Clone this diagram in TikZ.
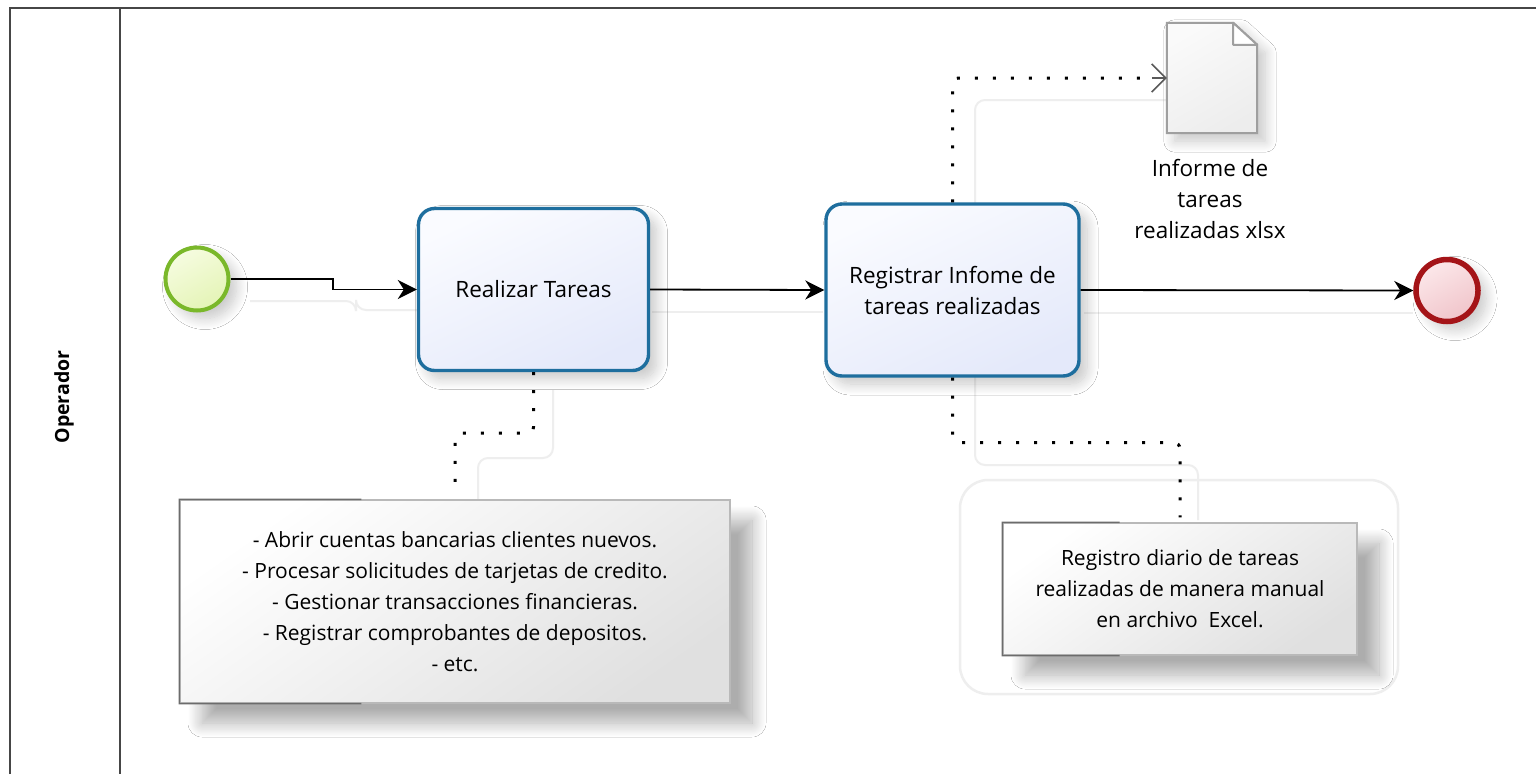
\documentclass[tikz,border=0pt]{standalone}
\usepackage{fontspec}
\setmainfont{Open Sans}
\usetikzlibrary{arrows.meta,shadows.blur,calc}

\definecolor{laneline}{RGB}{70,70,70}
\definecolor{taskline}{RGB}{30,110,158}
\definecolor{taskfillA}{RGB}{250,251,255}
\definecolor{taskfillB}{RGB}{228,233,250}
\definecolor{startline}{RGB}{122,184,42}
\definecolor{startfillA}{RGB}{246,252,224}
\definecolor{startfillB}{RGB}{228,244,182}
\definecolor{endline}{RGB}{164,20,24}
\definecolor{endfillA}{RGB}{252,232,234}
\definecolor{endfillB}{RGB}{240,196,202}
\definecolor{ghost}{RGB}{238,238,238}

\begin{document}
\begin{tikzpicture}[x=1pt,y=-1pt,
  font=\fontsize{22.5}{31}\selectfont,
  lane/.style={draw=laneline, line width=2.4pt},
  softshadow/.style={blur shadow={shadow xshift=8pt, shadow yshift=-8pt,
      shadow blur radius=11pt, shadow blur steps=14, shadow opacity=22}},
  notedrop/.style={blur shadow={shadow xshift=22pt, shadow yshift=-20pt,
      shadow blur radius=14pt, shadow blur steps=16, shadow opacity=32}},
  task/.style={draw=taskline, line width=3.4pt, rounded corners=16pt,
      top color=taskfillA, bottom color=taskfillB, shading angle=25,
      softshadow, align=center, inner sep=0pt},
  startev/.style={circle, draw=startline, line width=4pt, minimum size=63pt,
      top color=startfillA, bottom color=startfillB, shading angle=30,
      softshadow, inner sep=0pt},
  endev/.style={circle, draw=endline, line width=5.5pt, minimum size=62pt,
      top color=endfillA, bottom color=endfillB, shading angle=30,
      softshadow, inner sep=0pt},
  note/.style={draw=gray!55, line width=1.2pt, top color=white,
      bottom color=gray!24, shading angle=35, notedrop, align=center,
      inner sep=0pt, font=\fontsize{21}{31}\selectfont},
  notedark/.style={draw=gray!85!black, line width=1.6pt},
  docshape/.style={draw=gray!75, line width=2pt, top color=gray!4,
      bottom color=gray!14, shading angle=30, softshadow},
  seq/.style={draw=black, line width=1.8pt,
      -{Stealth[length=19pt, width=19pt, inset=6pt]}},
  assoc/.style={draw=black, line width=3pt, line cap=butt,
      dash pattern=on 3pt off 15pt, rounded corners=6pt},
  ghostline/.style={draw=ghost, line width=2pt, rounded corners=10pt},
]
\useasboundingbox (0,0) rectangle (1536,774);
\fill[white] (0,0) rectangle (1536,774);

% faint connector shadows and annotation group frame
\draw[ghostline] (250,301) -- (356,301) -- (356,310) -- (418,310);
\draw[ghostline] (652,312) -- (823,312);
\draw[ghostline] (1084,313) -- (1413,313);
\draw[ghostline] (553,390) -- (553,458) -- (478,458) -- (478,500);
\draw[ghostline] (1167,100) -- (975,100) -- (975,465) -- (1198,465) -- (1198,520);
\draw[draw=ghost, line width=2.5pt, rounded corners=28pt] (960,480) rectangle (1398,694);

% pool and lane frame
\draw[lane] (10,774) -- (10,8) -- (1536,8);
\draw[lane] (120,8) -- (120,774);
\node[rotate=90, font=\bfseries\fontsize{19.5}{22}\selectfont] (lanelabel) at (64,397) {Operador};

% events and tasks
\node[startev] (start) at (197,279) {};
\node[task, minimum width=230pt, minimum height=162pt] (t1) at (533.5,289.5) {Realizar Tareas};
\node[task, minimum width=253pt, minimum height=172pt] (t2) at (952.5,290) {Registrar Infome de\\tareas realizadas};
\node[endev] (finish) at (1447,290.5) {};

% data object
\node[minimum width=90pt, minimum height=110pt, inner sep=0pt] (doc) at (1212,78) {};
\path[docshape] (doc.north west) -- ([xshift=-24pt]doc.north east)
  -- ([yshift=-22pt]doc.north east) -- (doc.south east) -- (doc.south west) -- cycle;
\draw[draw=gray!75, line width=2pt, fill=white, line join=round]
  ([xshift=-24pt]doc.north east) -- ([xshift=-24pt,yshift=-22pt]doc.north east)
  -- ([yshift=-22pt]doc.north east) -- cycle;
\node[align=center, anchor=north] (doclabel) at (1210,156) {Informe de\\tareas\\realizadas xlsx};

% text annotations
\node[note, minimum width=550pt, minimum height=203pt] (n1) at (455,601.5)
  {- Abrir cuentas bancarias clientes nuevos.\\
   - Procesar solicitudes de tarjetas de credito.\\
   - Gestionar transacciones financieras.\\
   - Registrar comprobantes de depositos.\\
   - etc.};
\draw[notedark] ($(n1.north west)!0.33!(n1.north east)$) -- (n1.north west)
  -- (n1.south west) -- ($(n1.south west)!0.33!(n1.south east)$);
\node[note, minimum width=354pt, minimum height=132pt] (n2) at (1180,589)
  {Registro diario de tareas\\realizadas de manera manual\\en archivo\ \ Excel.};
\draw[notedark] ($(n2.north west)!0.33!(n2.north east)$) -- (n2.north west)
  -- (n2.south west) -- ($(n2.south west)!0.33!(n2.south east)$);

% sequence flows
\draw[seq] (start.east) -- (333,279) -- (333,289.5) -- (t1.west);
\draw[seq] (t1.east) -- (t2.west);
\draw[seq] (t2.east) -- (finish.west);

% associations
\draw[assoc, shorten >=14pt] (t1.south) -- ++(0,61) -| (n1.north);
\draw[assoc, shorten >=5pt] (t2.south) -- ++(0,65) -| (n2.north);
\draw[assoc, shorten >=16pt] (t2.north) |- (doc.west);
\draw[draw=gray!70!black, line width=1.6pt, -{Straight Barb[length=14pt, width=28pt]}]
  ([xshift=-15pt]doc.west) -- (doc.west);
\end{tikzpicture}
\end{document}
